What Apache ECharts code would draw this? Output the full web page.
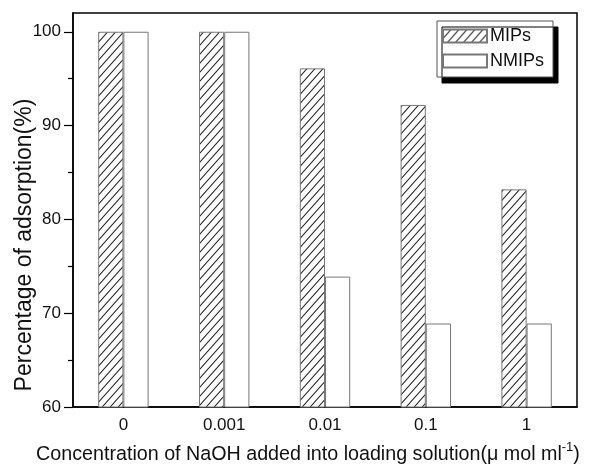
<!DOCTYPE html>
<html>
<head>
<meta charset="utf-8">
<script src="https://cdn.jsdelivr.net/npm/echarts@6/dist/echarts.min.js"></script>
<style>
  html, body { margin: 0; padding: 0; background: #fff; }
  #main { width: 611px; height: 467px; }
</style>
</head>
<body>
<div id="main"></div>
<script>
var categories = ['0', '0.001', '0.01', '0.1', '1'];
var mips = [100, 100, 96.1, 92.2, 83.2];
var nmips = [100, 100, 73.9, 68.9, 68.9];
var majorTicks = [60, 70, 80, 90, 100];
var minorTicks = [65, 75, 85, 95];

// hatch pattern for the MIPs bars
var hatch = document.createElement('canvas');
hatch.width = 8;
hatch.height = 9;
var ctx = hatch.getContext('2d');
ctx.fillStyle = '#fff';
ctx.fillRect(0, 0, 8, 9);
ctx.strokeStyle = '#222';
ctx.lineWidth = 1.1;
ctx.beginPath();
ctx.moveTo(-1, 10.1); ctx.lineTo(9, -1.1);
ctx.moveTo(-9, 10.1); ctx.lineTo(1, -1.1);
ctx.moveTo(7, 10.1); ctx.lineTo(17, -1.1);
ctx.stroke();

var dom = document.getElementById('main');
var myChart = echarts.init(dom, null, { renderer: 'canvas' });

var font = '"Liberation Sans", Arial, sans-serif';

myChart.setOption({
    animation: false,
    backgroundColor: '#fff',
    textStyle: { fontFamily: font, color: '#111' },
    grid: {
        left: 73, right: 34, top: 13, bottom: 60,
        outerBoundsMode: 'none',
        containLabel: false,
        show: true,
        borderColor: '#000',
        borderWidth: 1.5,
        backgroundColor: 'transparent'
    },
    legend: {
        orient: 'vertical',
        left: 437,
        top: 21,
        padding: [6, 9, 7, 5],
        itemWidth: 44,
        itemHeight: 13,
        itemGap: 7,
        icon: 'rect',
        backgroundColor: '#fff',
        borderColor: '#555',
        borderWidth: 1,
        shadowColor: '#000',
        shadowBlur: 0,
        shadowOffsetX: 5,
        shadowOffsetY: 6,
        textStyle: { fontSize: 18, color: '#111', fontFamily: font, padding: [0, 0, 0, -2] },
        data: ['MIPs', 'NMIPs']
    },
    xAxis: {
        type: 'category',
        data: categories,
        axisLine: { lineStyle: { color: '#000', width: 1.5 } },
        axisTick: { show: false },
        axisLabel: { fontSize: 17, color: '#111', margin: 10, fontFamily: font },
        name: 'Concentration of NaOH added into loading solution(\u03bc mol ml{sup|-1})',
        nameLocation: 'middle',
        nameGap: 34,
        nameMoveOverlap: false,
        nameTextStyle: {
            fontSize: 19.7, color: '#111', fontFamily: font,
            padding: [0, 34, 0, 0],
            rich: { sup: { fontSize: 13, verticalAlign: 'top', padding: [0, 0, 14, 0], color: '#111', fontFamily: font } }
        }
    },
    yAxis: [{
        type: 'value',
        min: 60,
        max: 102,
        interval: 10,
        splitLine: { show: false },
        axisLine: { show: true, lineStyle: { color: '#000', width: 1.5 } },
        axisTick: { show: true, length: 9, customValues: majorTicks, lineStyle: { color: '#000', width: 1.2 } },
        axisLabel: { fontSize: 17, color: '#111', margin: 12, customValues: majorTicks, fontFamily: font },
        name: 'Percentage of adsorption(%)',
        nameLocation: 'middle',
        nameGap: 37,
        nameMoveOverlap: false,
        nameTextStyle: { fontSize: 23, color: '#111', fontFamily: font, padding: [0, 70, 0, 0] }
    }, {
        type: 'value',
        min: 60,
        max: 102,
        position: 'left',
        splitLine: { show: false },
        axisLine: { show: false },
        axisTick: { show: true, length: 5, customValues: minorTicks, lineStyle: { color: '#000', width: 1.2 } },
        axisLabel: { show: false }
    }],
    series: [{
        name: 'MIPs',
        type: 'bar',
        barWidth: '25%',
        barGap: '0%',
        data: mips,
        itemStyle: {
            color: { image: hatch, repeat: 'repeat' },
            borderColor: '#777',
            borderWidth: 1
        }
    }, {
        name: 'NMIPs',
        type: 'bar',
        barWidth: '25%',
        barGap: '0%',
        data: nmips,
        itemStyle: {
            color: '#fff',
            borderColor: '#777',
            borderWidth: 1
        }
    }]
});

window.onresize = function () {
    myChart.resize();
};
</script>
</body>
</html>
